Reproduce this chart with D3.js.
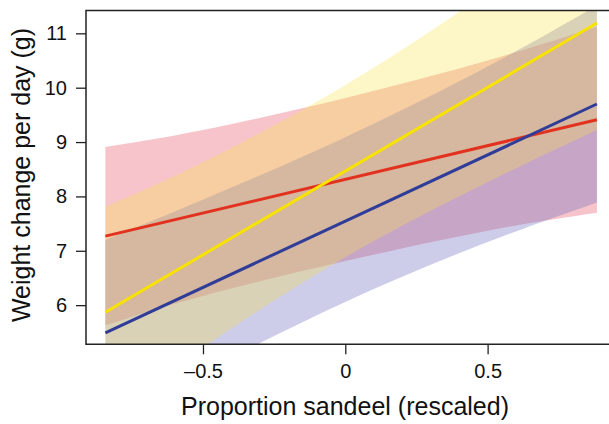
<!DOCTYPE html>
<html>
<head>
<meta charset="utf-8">
<script src="https://cdn.jsdelivr.net/npm/d3@7"></script>
<style>
body { margin: 0; background: #fff; }
svg { display: block; font-family: 'Liberation Sans', Arial, Helvetica, sans-serif; }
.axis text { font-size: 20px; fill: #111; }
.axis path, .axis line { stroke: #222; stroke-width: 1.3px; }
.title { font-size: 25px; fill: #111; }
</style>
</head>
<body>
<script>
// values
var bandX = [-0.843, -0.5, 0, 0.5, 0.884];
var lineX = [-0.843, 0.884];

var redLow = [5.63, 6.17, 6.81, 7.37, 7.70];
var redHigh = [8.91, 9.22, 9.81, 10.50, 11.12];
var redFit = [7.27, 9.41];

var yellowLow = [3.92, 5.22, 6.88, 8.26, 9.22];
var yellowHigh = [7.81, 8.63, 10.05, 11.75, 13.16];
var yellowFit = [5.87, 11.19];

var blueLow = [3.74, 4.76, 6.06, 7.16, 7.89];
var blueHigh = [7.20, 7.94, 9.09, 10.39, 11.51];
var blueFit = [5.49, 9.70];

var xTicks = [-0.5, 0, 0.5];
var yTicks = [6, 7, 8, 9, 10, 11];

var series = [
  { name: 'red', low: redLow, high: redHigh, fit: redFit, band: 'rgb(224,60,80)', alpha: 0.3, line: '#e2321f' },
  { name: 'yellow', low: yellowLow, high: yellowHigh, fit: yellowFit, band: 'rgb(250,224,70)', alpha: 0.3, line: '#f7e200' },
  { name: 'blue', low: blueLow, high: blueHigh, fit: blueFit, band: 'rgb(112,108,192)', alpha: 0.35, line: '#2f3d98' }
];
// bands: red, then blue, yellow on top
var bandOrder = [series[0], series[2], series[1]];

var W = 609, H = 424;
var frame = { left: 86, top: 10.5, right: 610, bottom: 344.3 };

var x = d3.scaleLinear().domain([-0.911, 0.93]).range([frame.left, frame.right]);
var y = d3.scaleLinear().domain([5.28, 11.42]).range([frame.bottom, frame.top]);

var svg = d3.select('body').append('svg').attr('width', W).attr('height', H);

svg.append('clipPath').attr('id', 'plot')
  .append('rect').attr('x', frame.left).attr('y', frame.top)
  .attr('width', frame.right - frame.left).attr('height', frame.bottom - frame.top);

var g = svg.append('g').attr('clip-path', 'url(#plot)');

var area = d3.area()
  .x(d => x(d[0])).y0(d => y(d[1])).y1(d => y(d[2]))
  .curve(d3.curveNatural);
var line = d3.line().x(d => x(d[0])).y(d => y(d[1]));

bandOrder.forEach(s => {
  g.append('path')
    .attr('d', area(bandX.map((v, i) => [v, s.low[i], s.high[i]])))
    .attr('fill', s.band).attr('fill-opacity', s.alpha);
});
series.forEach(s => {
  g.append('path')
    .attr('d', line(lineX.map((v, i) => [v, s.fit[i]])))
    .attr('fill', 'none').attr('stroke', s.line).attr('stroke-width', 3);
});

// box
svg.append('path')
  .attr('d', 'M' + frame.right + ',' + frame.top + 'H' + frame.left + 'V' + frame.bottom + 'H' + frame.right)
  .attr('fill', 'none').attr('stroke', '#222').attr('stroke-width', 1.5);

svg.append('g').attr('class', 'axis')
  .attr('transform', 'translate(0,' + frame.bottom + ')')
  .call(d3.axisBottom(x).tickValues(xTicks).tickSize(10).tickPadding(10)
    .tickFormat(d => d < 0 ? '\u2013' + Math.abs(d) : d))
  .call(a => a.select('.domain').remove());

svg.append('g').attr('class', 'axis')
  .attr('transform', 'translate(' + frame.left + ',0)')
  .call(d3.axisLeft(y).tickValues(yTicks).tickSize(10).tickPadding(9).tickFormat(d3.format('d')))
  .call(a => a.select('.domain').remove());

svg.append('text').attr('class', 'title')
  .attr('x', 345).attr('y', 415).attr('text-anchor', 'middle')
  .text('Proportion sandeel (rescaled)');

svg.append('text').attr('class', 'title')
  .attr('transform', 'translate(30,' + 175 + ') rotate(-90)')
  .attr('text-anchor', 'middle')
  .text('Weight change per day (g)');
</script>
</body>
</html>
